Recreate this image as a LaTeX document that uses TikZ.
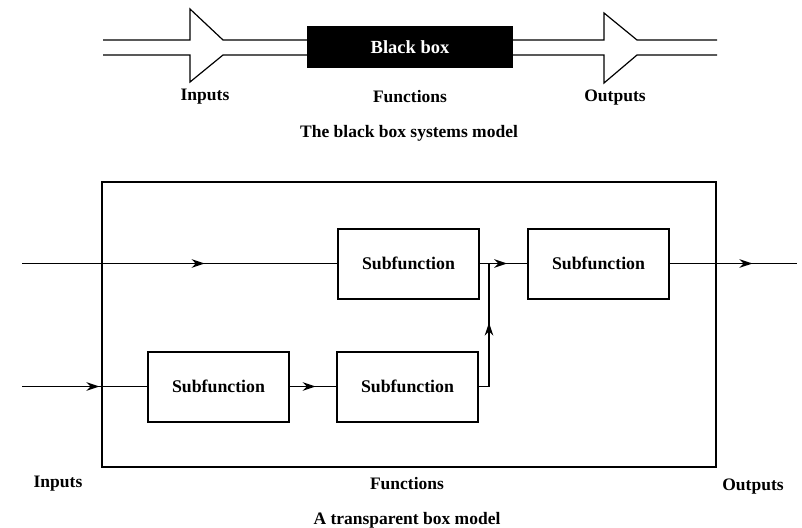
\documentclass[tikz,border=0pt]{standalone}
\usepackage{fontspec}
\setmainfont{Liberation Serif}
\usetikzlibrary{arrows.meta,decorations.markings}
\begin{document}
\begin{tikzpicture}[x=1pt,y=-1pt,
  lbl/.style={font=\fontsize{17.5}{20}\selectfont\bfseries, inner sep=0pt},
  subbox/.style={draw, line width=2pt, minimum width=141pt, minimum height=70pt, inner sep=0pt, font=\fontsize{17.8}{20}\selectfont\bfseries},
  flow/.style={line width=1.8pt},
  midarrow/.style={postaction={decorate}, decoration={markings, mark=at position #1 with {\arrow{Stealth[length=13pt,width=8.5pt,inset=4pt]}}}},
  chev/.style={line width=1.2pt, line join=miter}
]
\useasboundingbox (0,0) rectangle (802,527);

% ---- black box model ----
\node[fill=black, minimum width=206pt, minimum height=42pt, inner sep=0pt, text=white,
      font=\fontsize{18.5}{20}\selectfont\bfseries] (bb) at (410,47) {Black box};
\draw[chev] (103,40) -- (190,40) -- (190,9) -- (223,40) -- (307,40);
\draw[chev] (103,55) -- (190,55) -- (190,82) -- (223,55) -- (307,55);
\draw[chev] (513,40) -- (604,40) -- (604,13) -- (637,40) -- (717,40);
\draw[chev] (513,55) -- (604,55) -- (604,83) -- (637,55) -- (717,55);
\node[lbl] (tin) at (205,97) {Inputs};
\node[lbl] (tfn) at (410,97) {Functions};
\node[lbl] (tout) at (615,98) {Outputs};
\node[lbl] (tcap) at (409,133) {The black box systems model};

% ---- transparent box model ----
\draw[line width=1.4pt] (102,182) rectangle (716,467);
\node[subbox] (A) at (408.5,263.5) {Subfunction};
\node[subbox] (B) at (598.5,263.5) {Subfunction};
\node[subbox] (C) at (218.5,386.5) {Subfunction};
\node[subbox] (D) at (407.5,386.5) {Subfunction};
\coordinate (in1) at (22,263.5);
\coordinate (in2) at (22,386.5);
\coordinate (out1) at (797,263.5);
\coordinate (jn) at (489,263.5);

\draw[flow, midarrow=0.58] (in1) -- (A.west);
\draw[flow, midarrow=0.58] (A.east) -- (B.west);
\draw[flow, midarrow=0.65] (B.east) -- (out1);
\draw[flow, midarrow=0.62] (in2) -- (C.west);
\draw[flow, midarrow=0.56] (C.east) -- (D.west);
\draw[flow, midarrow=74pt] (D.east) -| (jn);

\node[lbl] (bin) at (58,484) {Inputs};
\node[lbl] (bfn) at (407,484) {Functions};
\node[lbl] (bout) at (753,487) {Outputs};
\node[lbl] (bcap) at (407,520) {A transparent box model};
\end{tikzpicture}
\end{document}
